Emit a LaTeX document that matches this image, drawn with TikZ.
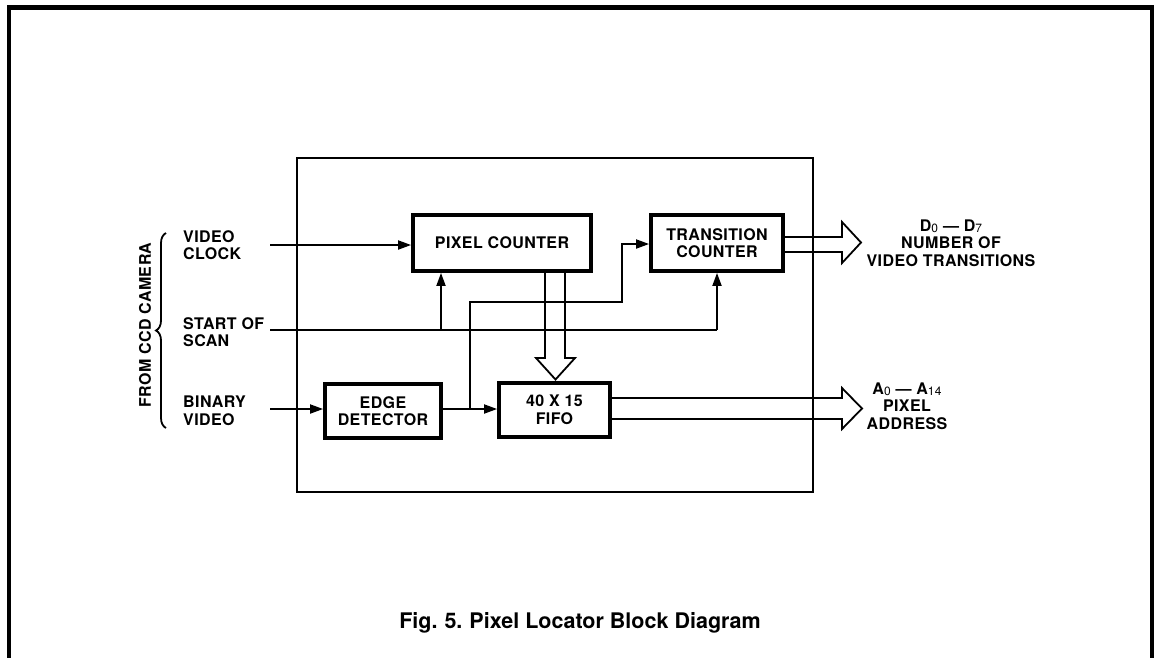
\documentclass[tikz,border=0pt]{standalone}
\usepackage{fontspec}
\setmainfont[LetterSpace=2.5]{TeX Gyre Heros}
\newfontfamily\capfont{TeX Gyre Heros}
\usetikzlibrary{arrows.meta,decorations.pathreplacing,calc}
\newcommand\subn[1]{\raisebox{-1.6pt}{\fontsize{12}{12}\mdseries\selectfont #1}}
\begin{document}
\begin{tikzpicture}[x=1pt,y=-1pt,
  lbl/.style={font=\fontsize{16}{17.5}\bfseries\selectfont, inner sep=0pt},
  blk/.style={draw, line width=3.8pt, inner sep=0pt, align=center,
              font=\fontsize{16}{17.5}\bfseries\selectfont},
  sig/.style={line width=1.8pt},
  arr/.style={sig, -{Triangle[length=13pt,width=9pt]}},
  bus/.style={line width=1.8pt, line join=miter},
  frame/.style={line width=4.5pt, line join=miter},
  inner/.style={line width=1.5pt}]
\useasboundingbox (0,0) rectangle (1158,657);
% outer frame and inner boundary
\draw[frame] (9,660) -- (9,7.5) -- (1152,7.5) -- (1152,660);
\draw[inner] (297,158) rectangle (813,492);
% blocks
\node[blk, minimum width=178pt, minimum height=56pt] (pc) at (502,243) {PIXEL COUNTER};
\node[blk, minimum width=132pt, minimum height=56pt] (tc) at (717,243) {TRANSITION\\COUNTER};
\node[blk, minimum width=116pt, minimum height=54pt] (ed) at (383,411) {EDGE\\DETECTOR};
\node[blk, minimum width=111pt, minimum height=54pt] (fifo) at (554.5,410) {40 X 15\\FIFO};
% input labels
\node[lbl, anchor=west, align=left] (vclab) at (183,245) {VIDEO\\CLOCK};
\node[lbl, anchor=west, align=left] (sslab) at (183,332) {START OF\\SCAN};
\node[lbl, anchor=west, align=left] (bvlab) at (183,411) {BINARY\\VIDEO};
\node[lbl, rotate=90] (ccd) at (145,325) {FROM CCD CAMERA};
\coordinate (brtop) at (166,233);
\coordinate (brbot) at (166,428);
\draw[line width=1.8pt, decorate, decoration={brace, amplitude=10pt}] (brbot) -- (brtop);
% signals
\coordinate (vc) at (270,245);
\draw[arr] (vc) -- (vc -| pc.west);
\coordinate (ss) at (270,330);
\coordinate (ssend) at (ss -| tc.south);
\coordinate (b1) at (441,330);
\draw[sig] (ss) -- (ssend);
\draw[arr] (b1) -- (b1 |- pc.south);
\draw[arr] (ssend) -- (tc.south);
\coordinate (bv) at (270,409);
\draw[arr] (bv) -- (bv -| ed.west);
\coordinate (e1) at (bv -| ed.east);
\draw[arr] (e1) -- (e1 -| fifo.west);
\coordinate (br) at (470,409);
\coordinate (tcin) at (tc.west |- 0,244);
\draw[arr] (br) -- (470,302) -- (622,302) -- (622,244) -- (tcin);
% bus arrows
\coordinate (pcb1) at (pc.south -| 545,0);
\coordinate (pcb2) at (pc.south -| 565,0);
\draw[bus] (pcb1) -- (545,358) -- (536,358) -- (555.5,379.5) -- (575,358) -- (565,358) -- (pcb2);
\coordinate (tco1) at (tc.east |- 0,237);
\coordinate (tco2) at (tc.east |- 0,252);
\draw[bus] (tco1) -- (842,237) -- (842,222) -- (861,242.5) -- (842,263) -- (842,252) -- (tco2);
\coordinate (fo1) at (fifo.east |- 0,398);
\coordinate (fo2) at (fifo.east |- 0,419);
\draw[bus] (fo1) -- (842,398) -- (842,388) -- (862,408.5) -- (842,429) -- (842,419) -- (fo2);
% output labels
\node[lbl, align=center] (dlab) at (951,243) {D\subn{0} — D\subn{7}\\NUMBER OF\\VIDEO TRANSITIONS};
\node[lbl, align=center] (alab) at (907,406) {A\subn{0} — A\subn{14}\\PIXEL\\ADDRESS};
% caption
\node[inner sep=0pt, font=\capfont\fontsize{21.5}{24}\bfseries\selectfont] (cap) at (580,623)
  {Fig.\hspace{7pt}5.\hspace{7pt}Pixel\ Locator\ Block\ Diagram};
\end{tikzpicture}
\end{document}
